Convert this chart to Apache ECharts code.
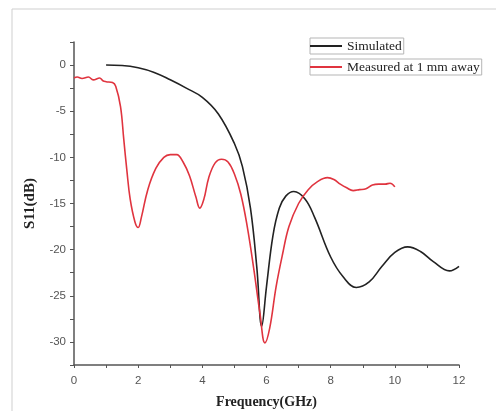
<!DOCTYPE html>
<html><head><meta charset="utf-8">
<script src="https://cdn.jsdelivr.net/npm/echarts@6/dist/echarts.min.js"></script>
<style>html,body{margin:0;padding:0;background:#fff}#c{width:496px;height:411px}</style>
</head><body><div id="c"></div>
<script>
const simFreq = [1,1.5,2,2.5,3,3.5,4,4.5,5,5.25,5.5,5.7,5.85,6.0,6.2,6.4,6.6,6.85,7.2,7.5,8,8.4,8.8,9.2,9.6,10,10.4,10.8,11.2,11.7,12];
const simS11 = [0,-0.05,-0.3,-0.8,-1.6,-2.5,-3.5,-5.3,-8.5,-11,-15.5,-22,-28.3,-24,-18.5,-15.5,-14.2,-13.7,-14.5,-16.5,-20.8,-23,-24.1,-23.5,-21.8,-20.3,-19.7,-20.2,-21.3,-22.3,-21.8];
const measFreq = [0,0.1,0.25,0.45,0.6,0.8,0.9,1.0,1.2,1.3,1.45,1.55,1.65,1.75,1.9,2.0,2.1,2.3,2.55,2.8,3.0,3.2,3.4,3.6,3.8,3.92,4.05,4.2,4.4,4.6,4.8,5.0,5.2,5.4,5.6,5.8,5.95,6.1,6.3,6.5,6.7,7.0,7.3,7.6,7.9,8.1,8.3,8.5,8.7,8.9,9.1,9.3,9.5,9.7,9.85,10];
const measS11 = [-1.4,-1.3,-1.45,-1.3,-1.6,-1.4,-1.7,-1.8,-1.9,-2.3,-4.5,-8,-11.5,-14.5,-17,-17.6,-16.5,-13.5,-11.2,-10,-9.7,-9.7,-10.5,-12,-14.3,-15.5,-14.5,-12.2,-10.6,-10.2,-10.5,-11.8,-14,-17.5,-22,-27,-30.1,-28.5,-24,-20.5,-17.5,-15,-13.5,-12.6,-12.2,-12.4,-12.9,-13.3,-13.6,-13.5,-13.4,-13.0,-12.9,-12.9,-12.8,-13.2];
const seriesNames = ['Simulated','Measured at 1 mm away'];

const chart = echarts.init(document.getElementById('c'));
const legendText = {fontFamily:'Liberation Serif', fontSize:13.5, color:'#222'};
chart.setOption({
  backgroundColor:'#fff',
  animation:false,
  graphic:[{type:'rect', shape:{x:12,y:9,width:500,height:420}, style:{fill:'none', stroke:'#cfcfcf', lineWidth:1}}],
  grid:{left:74, right:37, top:42, bottom:46, containLabel:false, outerBoundsMode:'none'},
  legend:[
    {data:[seriesNames[0]], left:310, top:38, orient:'vertical', itemWidth:32, itemHeight:2, itemGap:0, padding:[1,2,1,0], borderColor:'#b5b5b5', borderWidth:1, textStyle:legendText, icon:'rect'},
    {data:[seriesNames[1]], left:310, top:59, orient:'vertical', itemWidth:32, itemHeight:2, itemGap:0, padding:[1,2,1,0], borderColor:'#b5b5b5', borderWidth:1, textStyle:legendText, icon:'rect'}
  ],
  xAxis:{type:'value', min:0, max:12, interval:1,
    name:'Frequency(GHz)', nameLocation:'middle', nameGap:30,
    nameTextStyle:{fontFamily:'Liberation Serif', fontWeight:'bold', fontSize:14, color:'#222'},
    axisLine:{onZero:false, lineStyle:{color:'#555', width:1.5}},
    axisTick:{length:3, lineStyle:{color:'#555'}},
    axisLabel:{fontFamily:'Liberation Sans', fontSize:11.5, color:'#555', margin:10, formatter:v=> (v%2===0? String(v):'')},
    splitLine:{show:false}},
  yAxis:{type:'value', min:-32.5, max:2.5, interval:2.5,
    name:'S11(dB)', nameLocation:'middle', nameGap:36,
    nameTextStyle:{fontFamily:'Liberation Serif', fontWeight:'bold', fontSize:15, color:'#222'},
    axisLine:{show:true, onZero:false, lineStyle:{color:'#555', width:1.5}},
    axisTick:{length:4, lineStyle:{color:'#555'}},
    axisLabel:{fontFamily:'Liberation Sans', fontSize:11.5, color:'#555', margin:8, formatter:v=> (Math.abs(v%5)<1e-9 && v<=0 ? String(v):'')},
    splitLine:{show:false}},
  series:[
    {name:seriesNames[0], type:'line', data:simFreq.map((f,i)=>[f,simS11[i]]), smooth:0.4, showSymbol:false, symbol:'none', lineStyle:{color:'#222', width:1.6}, itemStyle:{color:'#222'}},
    {name:seriesNames[1], type:'line', data:measFreq.map((f,i)=>[f,measS11[i]]), smooth:0.4, showSymbol:false, symbol:'none', lineStyle:{color:'#e0343f', width:1.6}, itemStyle:{color:'#e0343f'}}
  ]
});
</script></body></html>
